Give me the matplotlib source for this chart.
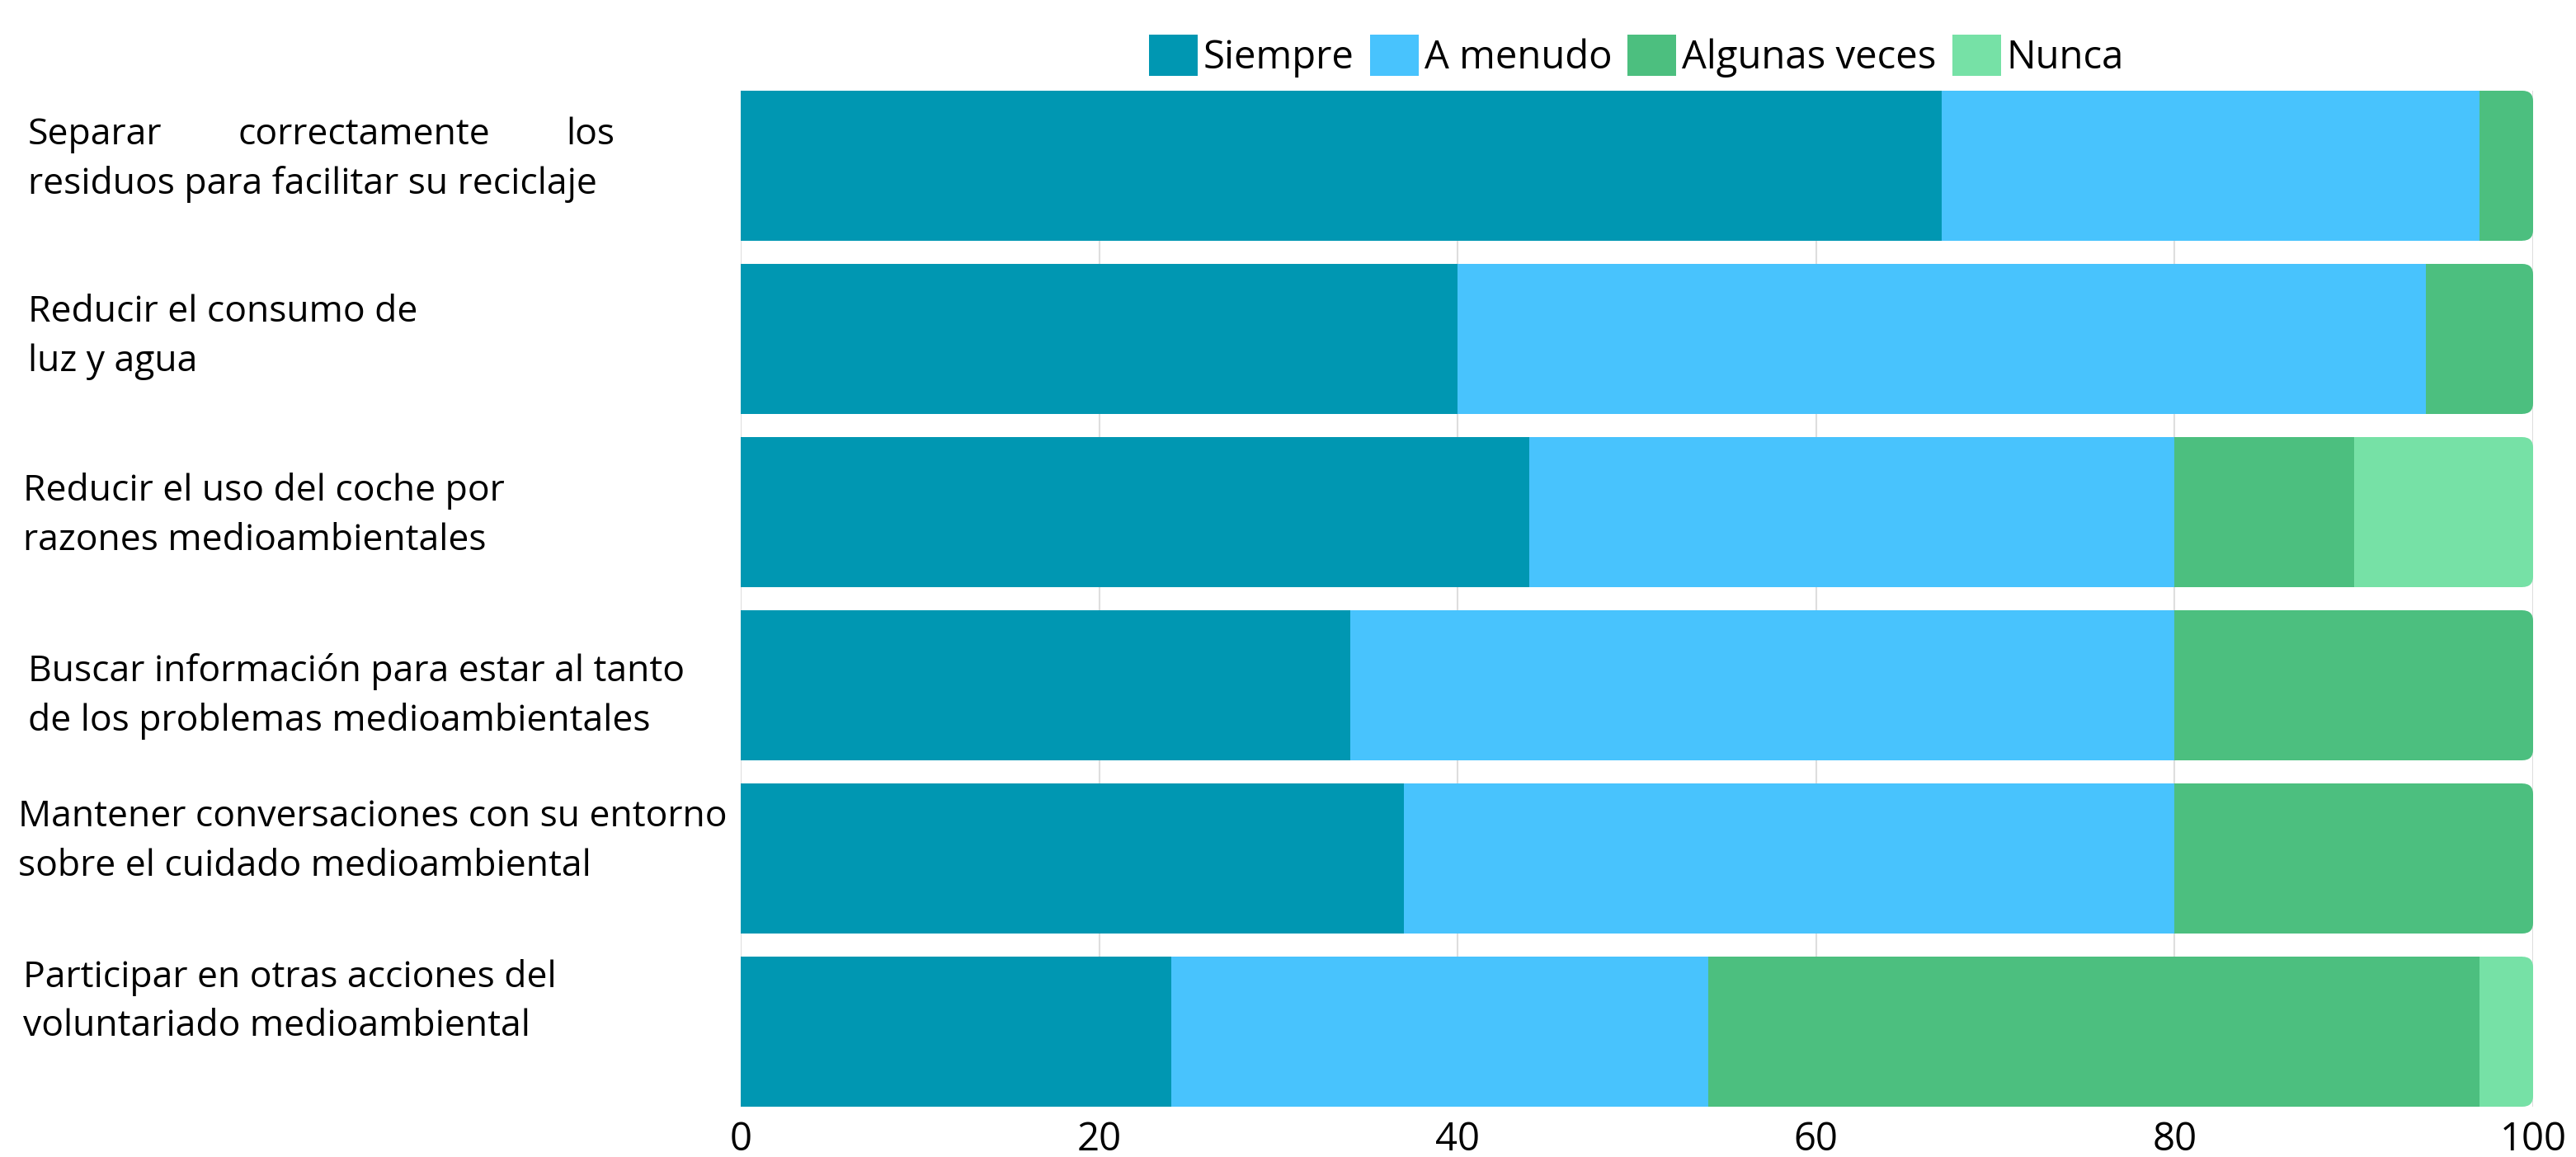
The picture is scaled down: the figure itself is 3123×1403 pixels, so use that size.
import matplotlib.pyplot as plt
from matplotlib.patches import FancyBboxPatch, Patch

plt.rcParams['font.family'] = ['Open Sans', 'DejaVu Sans']

# datos (porcentajes por fila, de arriba a abajo)
etiquetas = [
    ['Separar correctamente los', 'residuos para facilitar su reciclaje'],
    ['Reducir el consumo de', 'luz y agua'],
    ['Reducir el uso del coche por', 'razones medioambientales'],
    ['Buscar información para estar al tanto', 'de los problemas medioambientales'],
    ['Mantener conversaciones con su entorno', 'sobre el cuidado medioambiental'],
    ['Participar en otras acciones del', 'voluntariado medioambiental'],
]
siempre = [67, 40, 44, 34, 37, 24]
a_menudo = [30, 54, 36, 46, 43, 30]
algunas_veces = [3, 6, 10, 20, 20, 43]
nunca = [0, 0, 10, 0, 0, 3]
series = ['Siempre', 'A menudo', 'Algunas veces', 'Nunca']
ticks = [0, 20, 40, 60, 80, 100]

colores = ['#0097B2', '#48C3FD', '#4CBF7F', '#76E1A6']

# maquetacion de las etiquetas (px de la figura)
label_x = [34, 34, 28, 34, 22, 28]
label_dy = [-7, -2, 5, 13, -20, -36]
line_gap = 60
justify_right = 745  # la primera etiqueta va justificada

W, H = 3123, 1403
fig = plt.figure(figsize=(W / 100, H / 100), dpi=100)
ax = fig.add_axes([898 / W, 1 - 1342 / H, (3071 - 898) / W, (1342 - 110) / H])

alto = 0.866
r = 0.6
asp = 0.103
valores = [siempre, a_menudo, algunas_veces, nunca]

for i in range(len(etiquetas)):
    segs = [v[i] for v in valores]
    ultimo = max(k for k, s in enumerate(segs) if s > 0)
    izq = 0
    for k, s in enumerate(segs):
        if s <= 0:
            continue
        if k == ultimo:
            # el ultimo tramo lleva las esquinas derechas redondeadas
            ax.barh(i, s - r, left=izq, height=alto, color=colores[k], zorder=3, linewidth=0)
            p = FancyBboxPatch((izq + s - 2 * r, i - alto / 2), 2 * r, alto,
                               boxstyle=f'round,pad=0,rounding_size={r}',
                               mutation_aspect=asp, facecolor=colores[k],
                               edgecolor='none', zorder=3)
            ax.add_patch(p)
        else:
            ax.barh(i, s, left=izq, height=alto, color=colores[k], zorder=3, linewidth=0)
        izq += s

ax.set_xlim(0, 100)
ax.set_ylim(len(etiquetas) - 1 + alto / 2, -alto / 2)
ax.set_xticks(ticks)
ax.set_yticks([])
ax.tick_params(axis='x', length=0, labelsize=34, pad=12)
ax.grid(axis='x', color='#dedede', linewidth=1.5, zorder=0)
for sp in ax.spines.values():
    sp.set_visible(False)

# etiquetas de categoria
renderer = fig.canvas.get_renderer()
for i, lineas in enumerate(etiquetas):
    yc = ax.transData.transform((0, i))[1]
    for j, linea in enumerate(lineas):
        y = yc - label_dy[i] + (len(lineas) / 2 - 0.5 - j) * line_gap
        if i == 0 and j == 0:
            palabras = linea.split()
            objs = [fig.text(0, y / H, w, fontsize=32, va='center', ha='left')
                    for w in palabras]
            anchos = [o.get_window_extent(renderer).width for o in objs]
            hueco = (justify_right - label_x[i] - sum(anchos)) / (len(palabras) - 1)
            x = label_x[i]
            for o, a in zip(objs, anchos):
                o.set_x(x / W)
                x += a + hueco
        else:
            fig.text(label_x[i] / W, y / H, linea, fontsize=32, va='center', ha='left')

handles = [Patch(facecolor=c, edgecolor='none') for c in colores]
fig.legend(handles, series, loc='center', bbox_to_anchor=(1984 / W, 1 - 68 / H),
           ncol=4, frameon=False, fontsize=34, handlelength=1.25, handleheight=1.25,
           handletextpad=0.15, columnspacing=0.4, borderpad=0)

fig.savefig('out.png', dpi=100)
